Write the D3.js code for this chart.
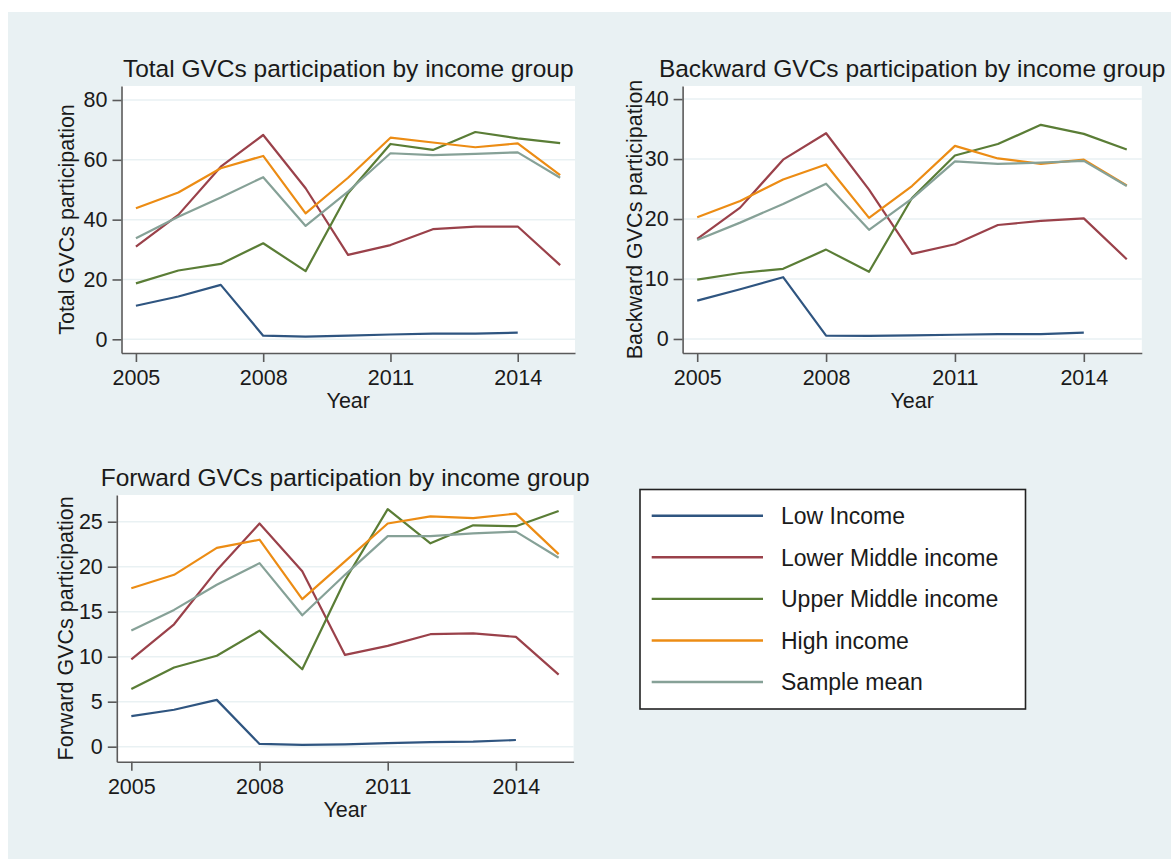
<!DOCTYPE html>
<html>
<head>
<meta charset="utf-8">
<script src="https://cdn.jsdelivr.net/npm/d3@7"></script>
<style>
  body { margin: 0; background: #fff; }
  svg { display: block; font-family: "Liberation Sans", Arial, sans-serif; }
</style>
</head>
<body>
<div id="chart"></div>
<script>
// years on the x axis
const years = [2005, 2006, 2007, 2008, 2009, 2010, 2011, 2012, 2013, 2014, 2015];
const xTicks = [2005, 2008, 2011, 2014];

const seriesNames = [
  "Low Income",
  "Lower Middle income",
  "Upper Middle income",
  "High income",
  "Sample mean",
];

// total participation
const totalLow = [11.2, 14.3, 18.2, 1.2, 0.9, 1.2, 1.6, 1.9, 1.9, 2.2, null];
const totalLowerMid = [31.0, 41.6, 57.7, 68.3, 50.5, 28.2, 31.5, 36.8, 37.7, 37.7, 24.8];
const totalUpperMid = [18.7, 23.0, 25.2, 32.1, 22.8, 48.8, 65.3, 63.3, 69.3, 67.2, 65.6];
const totalHigh = [43.8, 49.1, 57.2, 61.3, 42.1, 54.0, 67.4, 65.8, 64.2, 65.5, 54.9];
const totalMean = [33.8, 41.0, 47.4, 54.2, 37.9, 49.4, 62.2, 61.6, 62.0, 62.5, 54.0];
const totalTicks = [0, 20, 40, 60, 80];

// backward participation
const backLow = [6.4, 8.3, 10.3, 0.56, 0.5, 0.6, 0.7, 0.8, 0.8, 1.05, null];
const backLowerMid = [16.7, 21.9, 29.9, 34.3, 24.9, 14.2, 15.8, 19.0, 19.7, 20.1, 13.3];
const backUpperMid = [9.9, 11.0, 11.7, 14.9, 11.2, 23.5, 30.6, 32.5, 35.7, 34.2, 31.6];
const backHigh = [20.3, 23.0, 26.6, 29.1, 20.2, 25.5, 32.2, 30.1, 29.2, 29.9, 25.6];
const backMean = [16.5, 19.4, 22.5, 25.9, 18.2, 23.4, 29.6, 29.2, 29.4, 29.7, 25.5];
const backTicks = [0, 10, 20, 30, 40];

// forward participation
const fwdLow = [3.4, 4.1, 5.2, 0.3, 0.2, 0.26, 0.4, 0.5, 0.55, 0.74, null];
const fwdLowerMid = [9.7, 13.6, 19.6, 24.8, 19.5, 10.2, 11.2, 12.5, 12.6, 12.2, 8.0];
const fwdUpperMid = [6.4, 8.8, 10.1, 12.9, 8.6, 18.5, 26.4, 22.6, 24.6, 24.5, 26.2];
const fwdHigh = [17.6, 19.1, 22.1, 23.0, 16.4, 20.6, 24.8, 25.6, 25.4, 25.9, 21.4];
const fwdMean = [12.9, 15.2, 18.0, 20.4, 14.6, 19.1, 23.4, 23.4, 23.7, 23.9, 21.0];
const fwdTicks = [0, 5, 10, 15, 20, 25];

const colors = ["#2f5580", "#9a414a", "#5a7d36", "#ec8c14", "#86a197"];
const BG = "#e9f1f3";

const svg = d3
  .select("#chart")
  .append("svg")
  .attr("width", 1171)
  .attr("height", 859);

// stata style light background
svg.append("rect").attr("x", 8).attr("y", 12).attr("width", 1163).attr("height", 847).attr("fill", BG);

const renderPanel = (p) => {
  const x = d3.scaleLinear().domain([2004.66, 2015.35]).range([p.left, p.right]);
  const y = d3.scaleLinear().domain(p.yDomain).range([p.bottom, p.top]);

  const g = svg.append("g");

  g.append("rect")
    .attr("x", p.left)
    .attr("y", p.top)
    .attr("width", p.right - p.left)
    .attr("height", p.bottom - p.top)
    .attr("fill", "#fff");

  // horizontal grid
  g.selectAll(".grid")
    .data(p.ticks)
    .enter()
    .append("line")
    .attr("x1", p.left)
    .attr("x2", p.right)
    .attr("y1", (d) => y(d))
    .attr("y2", (d) => y(d))
    .attr("stroke", BG)
    .attr("stroke-width", 1.5);

  const yAxis = g
    .append("g")
    .attr("transform", "translate(" + p.left + ",0)")
    .call(d3.axisLeft(y).tickValues(p.ticks).tickSize(9).tickSizeOuter(0).tickPadding(5));

  const xAxis = g
    .append("g")
    .attr("transform", "translate(0," + p.bottom + ")")
    .call(d3.axisBottom(x).tickValues(xTicks).tickFormat(d3.format("d")).tickSize(9).tickSizeOuter(0).tickPadding(8));

  for (const ax of [yAxis, xAxis]) {
    ax.select(".domain").attr("stroke", "#5a5a5a").attr("stroke-width", 1.6);
    ax.selectAll(".tick line").attr("stroke", "#5a5a5a").attr("stroke-width", 1.6);
    ax.selectAll(".tick text")
      .attr("fill", "#1a1a1a")
      .style("font-size", "21.5px")
      .style("font-family", '"Liberation Sans", Arial, sans-serif');
  }

  p.series.forEach((vals, i) => {
    const pts = years.map((yr, k) => ({ x: yr, y: vals[k] })).filter((d) => d.y != null);
    g.append("path")
      .datum(pts)
      .attr("fill", "none")
      .attr("stroke", colors[i])
      .attr("stroke-width", 2.2)
      .attr("stroke-linejoin", "round")
      .attr(
        "d",
        d3
          .line()
          .x((d) => x(d.x))
          .y((d) => y(d.y))
      );
  });

  // titles
  g.append("text")
    .attr("x", (p.left + p.right) / 2)
    .attr("y", p.top - 9)
    .attr("text-anchor", "middle")
    .attr("fill", "#1a1a1a")
    .style("font-size", "24.5px")
    .text(p.title);

  g.append("text")
    .attr("x", (p.left + p.right) / 2)
    .attr("y", p.bottom + 55)
    .attr("text-anchor", "middle")
    .attr("fill", "#1a1a1a")
    .style("font-size", "21.5px")
    .text("Year");

  g.append("text")
    .attr("transform", "translate(" + p.yTitleX + "," + (p.top + p.bottom) / 2 + ") rotate(-90)")
    .attr("text-anchor", "middle")
    .attr("dy", "0.35em")
    .attr("fill", "#1a1a1a")
    .style("font-size", "21.5px")
    .text(p.yTitle);
};

renderPanel({
  left: 121.5, right: 575, top: 86, bottom: 353,
  yDomain: [-4.58, 84.68],
  ticks: totalTicks,
  series: [totalLow, totalLowerMid, totalUpperMid, totalHigh, totalMean],
  title: "Total GVCs participation by income group",
  yTitle: "Total GVCs participation",
  yTitleX: 66,
});

renderPanel({
  left: 682.6, right: 1141.8, top: 86, bottom: 353,
  yDomain: [-2.34, 42.18],
  ticks: backTicks,
  series: [backLow, backLowerMid, backUpperMid, backHigh, backMean],
  title: "Backward GVCs participation by income group",
  yTitle: "Backward GVCs participation",
  yTitleX: 634,
});

renderPanel({
  left: 116.8, right: 573.6, top: 495, bottom: 761.7,
  yDomain: [-1.67, 27.97],
  ticks: fwdTicks,
  series: [fwdLow, fwdLowerMid, fwdUpperMid, fwdHigh, fwdMean],
  title: "Forward GVCs participation by income group",
  yTitle: "Forward GVCs participation",
  yTitleX: 65,
});

// legend box
const legend = svg.append("g");
legend
  .append("rect")
  .attr("x", 640)
  .attr("y", 489.5)
  .attr("width", 385.5)
  .attr("height", 219.5)
  .attr("fill", "#fff")
  .attr("stroke", "#222")
  .attr("stroke-width", 1.6);

const legendY = d3.scalePoint().domain(seriesNames).range([515.7, 682]);

seriesNames.forEach((name, i) => {
  legend
    .append("line")
    .attr("x1", 651.7)
    .attr("x2", 763)
    .attr("y1", legendY(name))
    .attr("y2", legendY(name))
    .attr("stroke", colors[i])
    .attr("stroke-width", 2.4);
  legend
    .append("text")
    .attr("x", 781)
    .attr("y", legendY(name))
    .attr("dy", "0.36em")
    .attr("fill", "#1a1a1a")
    .style("font-size", "23px")
    .text(name);
});
</script>
</body>
</html>
